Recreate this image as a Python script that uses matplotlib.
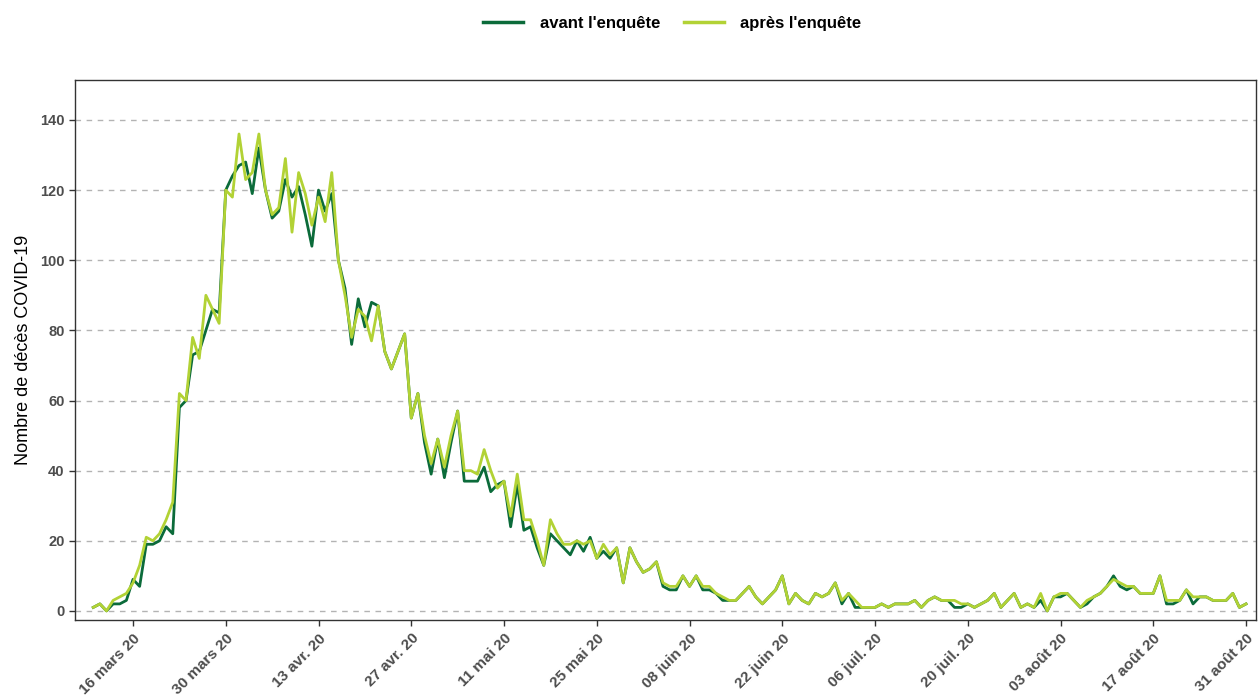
import numpy as np
import pandas as pd
import matplotlib
matplotlib.use('Agg')
import matplotlib.pyplot as plt
from matplotlib.lines import Line2D

plt.rcParams['font.family'] = ['Liberation Sans', 'DejaVu Sans']

# daily values, 10 mars 2020 -> 31 aout 2020
dates = pd.date_range('2020-03-10', '2020-08-31', freq='D')

avant = [1, 2, 0, 2, 2, 3, 9, 7, 19, 19,
         20, 24, 22, 58, 60, 73, 74, 80, 86, 85,
         120, 124, 127, 128, 119, 132, 120, 112, 114, 123,
         118, 121, 113, 104, 120, 114, 119, 100, 92, 76,
         89, 81, 88, 87, 74, 69, 74, 79, 55, 62,
         48, 39, 49, 38, 48, 57, 37, 37, 37, 41,
         34, 36, 37, 24, 36, 23, 24, 18, 13, 22,
         20, 18, 16, 20, 17, 21, 15, 17, 15, 18,
         8, 18, 14, 11, 12, 14, 7, 6, 6, 10,
         7, 10, 6, 6, 5, 3, 3, 3, 5, 7,
         4, 2, 4, 6, 10, 2, 5, 3, 2, 5,
         4, 5, 8, 2, 5, 1, 1, 1, 1, 2,
         1, 2, 2, 2, 3, 1, 3, 4, 3, 3,
         1, 1, 2, 1, 2, 3, 5, 1, 3, 5,
         1, 2, 1, 3, 0, 4, 4, 5, 3, 1,
         2, 4, 5, 7, 10, 7, 6, 7, 5, 5,
         5, 10, 2, 2, 3, 6, 2, 4, 4, 3,
         3, 3, 5, 1, 2]

apres = [1, 2, 0, 3, 4, 5, 8, 13, 21, 20,
         22, 26, 31, 62, 60, 78, 72, 90, 86, 82,
         120, 118, 136, 123, 125, 136, 120, 113, 115, 129,
         108, 125, 119, 110, 118, 111, 125, 100, 90, 78,
         86, 84, 77, 87, 74, 69, 74, 79, 55, 62,
         50, 42, 49, 41, 50, 57, 40, 40, 39, 46,
         40, 35, 37, 27, 39, 26, 26, 20, 13, 26,
         22, 19, 19, 20, 19, 20, 15, 19, 16, 18,
         8, 18, 14, 11, 12, 14, 8, 7, 7, 10,
         7, 10, 7, 7, 5, 4, 3, 3, 5, 7,
         4, 2, 4, 6, 10, 2, 5, 3, 2, 5,
         4, 5, 8, 3, 5, 3, 1, 1, 1, 2,
         1, 2, 2, 2, 3, 1, 3, 4, 3, 3,
         3, 2, 2, 1, 2, 3, 5, 1, 3, 5,
         1, 2, 1, 5, 0, 4, 5, 5, 3, 1,
         3, 4, 5, 7, 9, 8, 7, 7, 5, 5,
         5, 10, 3, 3, 3, 6, 4, 4, 4, 3,
         3, 3, 5, 1, 2]

tick_dates = pd.date_range('2020-03-16', '2020-08-31', freq='14D')
tick_labels = ['16 mars 20', '30 mars 20', '13 avr. 20', '27 avr. 20', '11 mai 20',
               '25 mai 20', '08 juin 20', '22 juin 20', '06 juil. 20', '20 juil. 20',
               '03 août 20', '17 août 20', '31 août 20']

col_avant = '#0b6b3a'
col_apres = '#b2d235'

fig = plt.figure(figsize=(12.59, 6.98), dpi=100)
ax = fig.add_axes([0.0596, 0.1117, 0.938, 0.7737])

ax.plot(dates, avant, color=col_avant, lw=2.0, label="avant l'enquête")
ax.plot(dates, apres, color=col_apres, lw=2.0, label="après l'enquête")

ax.set_xlim(dates[0] - pd.Timedelta(days=2.75), dates[0] + pd.Timedelta(days=175.5))
ax.set_ylim(-2.6, 151.4)
ax.set_yticks(np.arange(0, 141, 20))
ax.yaxis.grid(True, linestyle=(0, (4, 4)), color='#b3b3b3', lw=1)
ax.set_axisbelow(True)

ax.set_xticks(tick_dates)
ax.set_xticklabels(tick_labels, rotation=45, ha='right', rotation_mode='anchor',
                   fontsize=11, fontweight='bold', color='#4d4d4d')
for lab in ax.get_yticklabels():
    lab.set_fontsize(10.5)
    lab.set_fontweight('bold')
    lab.set_color('#4d4d4d')
ax.tick_params(axis='both', length=4, width=1, color='#333333')
ax.tick_params(axis='x', pad=4)

for sp in ax.spines.values():
    sp.set_color('#333333')
    sp.set_linewidth(1)

ax.set_ylabel('Nombre de décès COVID-19', fontsize=13, color='black', labelpad=6)

handles = [Line2D([], [], color=col_avant, lw=2.5), Line2D([], [], color=col_apres, lw=2.5)]
fig.legend(handles, ["avant l'enquête", "après l'enquête"], loc='center',
           bbox_to_anchor=(0.534, 0.966), ncol=2, frameon=False,
           prop={'weight': 'bold', 'size': 12}, handlelength=2.4, handletextpad=1.0,
           columnspacing=1.4)

fig.savefig('out.png', dpi=100)
